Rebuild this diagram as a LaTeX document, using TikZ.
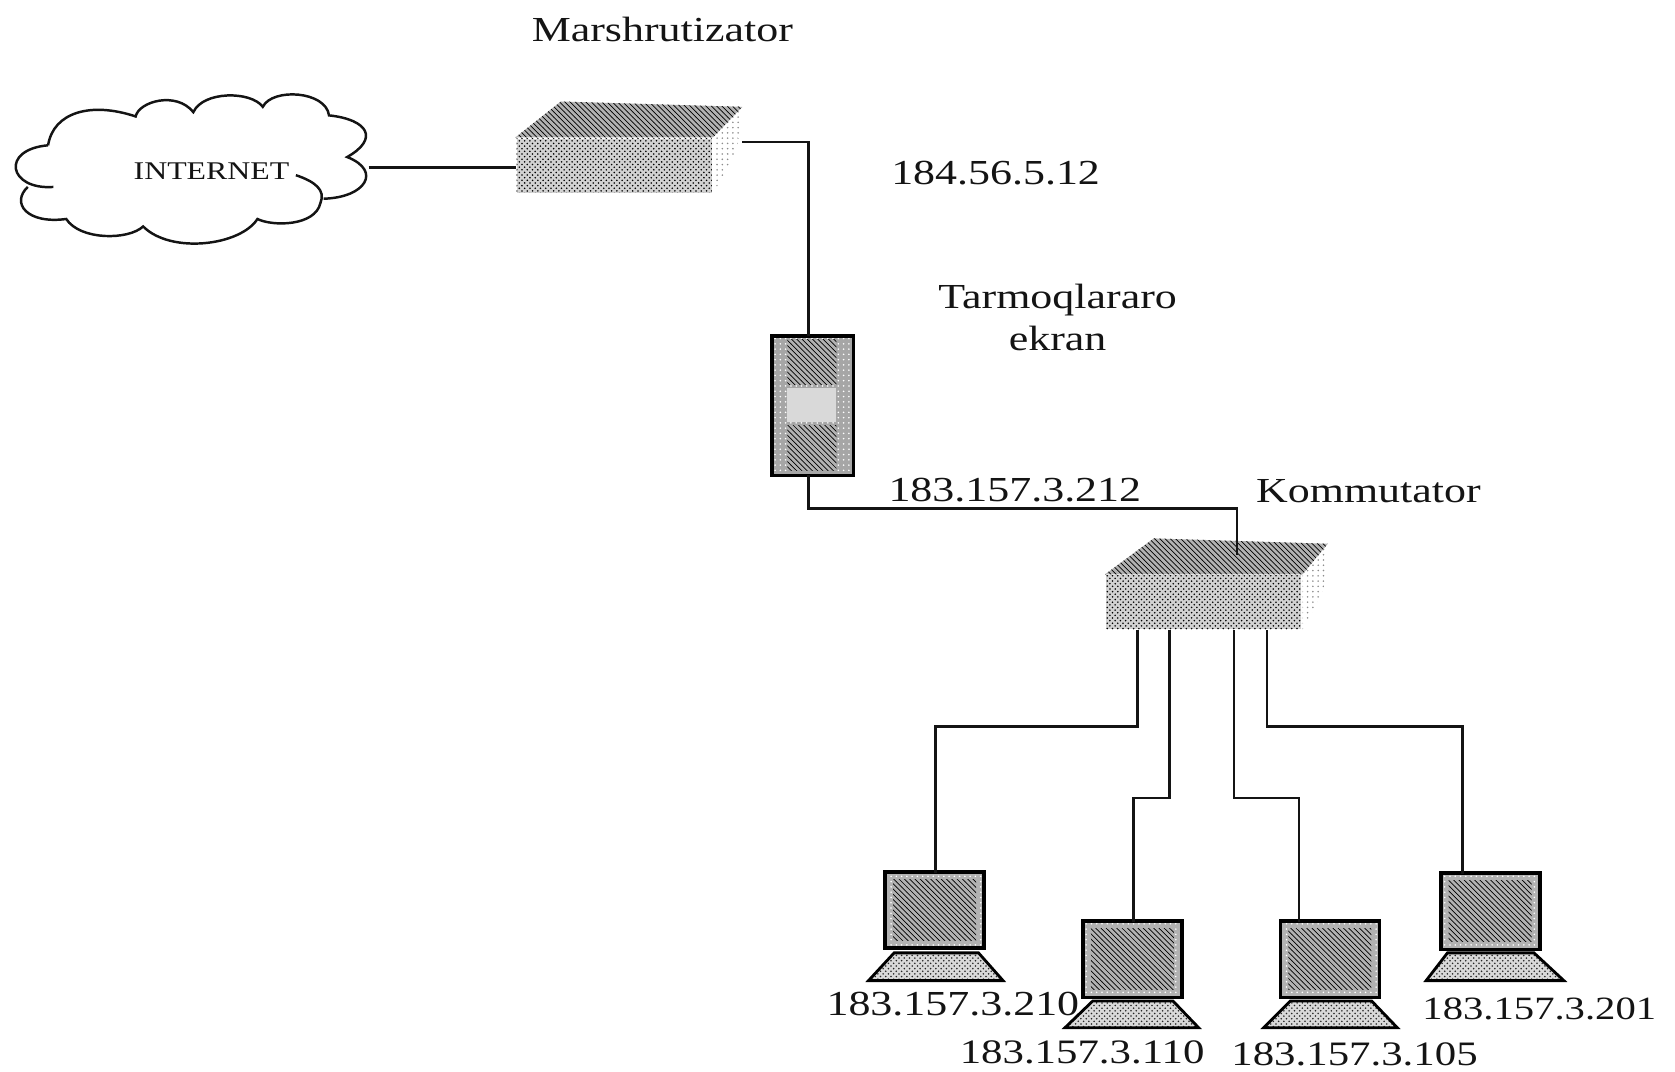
\documentclass[tikz,border=0pt]{standalone}
\usepackage{fontspec}
\setmainfont[FakeStretch=1.25]{Liberation Serif}
\usetikzlibrary{patterns}
\definecolor{inkblack}{gray}{.08}
\begin{document}
\begin{tikzpicture}[x=.02136cm,y=-.02136cm,line width=1.4pt,inkblack,
  every node/.style={font=\fontsize{20}{24}\selectfont,inner sep=1pt},
  wire/.style={draw=inkblack,line width=1.5pt},
  boxfront/.style={preaction={fill=gray!35},pattern=crosshatch dots,pattern color=black,inner sep=0pt,minimum width=3.9cm,minimum height=1.08cm},
  boxtop/.style={preaction={fill=gray!60},pattern=north west lines,pattern color=black},
  boxside/.style={pattern=dots,pattern color=black!45},
  fwframe/.style={draw=black,line width=2.2pt,preaction={fill=black!35},pattern=dots,pattern color=white,inner sep=0pt,minimum width=1.62cm,minimum height=2.78cm},
  fwdark/.style={preaction={fill=gray!60},pattern=north west lines,pattern color=black,inner sep=0pt,minimum width=.98cm,minimum height=.9cm},
  fwlight/.style={fill=gray!30,inner sep=0pt,minimum width=.98cm,minimum height=.68cm},
  monitor/.style={draw=black,line width=2.2pt,preaction={fill=black!30},pattern=dots,pattern color=white,inner sep=0pt,minimum width=1.98cm,minimum height=1.53cm},
  screen/.style={preaction={fill=gray!60},pattern=north west lines,pattern color=black,inner sep=0pt,minimum width=1.66cm,minimum height=1.22cm},
  keyboard/.style={draw=black,line width=1.6pt,preaction={fill=gray!30},pattern=crosshatch dots,pattern color=black!85}]
  \path[use as bounding box] (0,0) rectangle (1568,1003);
  \draw (45,136) .. controls (50,105) and (85,95) .. (127,109)
    .. controls (130,95) and (165,85) .. (181,105)
    .. controls (190,85) and (235,85) .. (246,100)
    .. controls (255,82) and (305,85) .. (308,108)
    .. controls (345,112) and (355,130) .. (325,147)
    .. controls (358,160) and (342,185) .. (303,186)
    (277,164) .. controls (295,170) and (305,178) .. (300,190)
    .. controls (295,212) and (255,212) .. (241,205)
    .. controls (225,230) and (160,238) .. (134,212)
    .. controls (120,225) and (75,225) .. (62,205)
    .. controls (25,210) and (10,190) .. (26,175)
    (50,175) .. controls (8,178) and (0,140) .. (45,136);
  \node (internet) at (198,160) {\fontsize{14.5}{16}\selectfont INTERNET};
  \node[boxfront] (router) at (575,155) {};
  \fill[boxside] (router.north east) -- (695,100) -- (690,140) -- (router.south east) -- cycle;
  \fill[boxtop] (router.north west) -- (525,95) -- (695,100) -- (router.north east) -- cycle;
  \node[fwframe] (firewall) at (761,380) {};
  \node[fwdark] (fwup) at (760,339) {};
  \node[fwlight] (fwmid) at (760,379) {};
  \node[fwdark] (fwdown) at (760,419) {};
  \node[boxfront] (switch) at (1127,564) {};
  \fill[boxside] (switch.north east) -- (1243,509) -- (1240,550) -- (switch.south east) -- cycle;
  \fill[boxtop] (switch.north west) -- (1080,504) -- (1243,509) -- (switch.north east) -- cycle;
  \node[monitor] (pca) at (875,852) {};
  \node[screen] at (pca) {};
  \draw[keyboard] (813,918) -- (837,892) -- (916,892) -- (939,918) -- cycle;
  \node[monitor] (pcb) at (1060,898) {};
  \node[screen] at (pcb) {};
  \draw[keyboard] (997,962) -- (1023,937) -- (1098,937) -- (1122,962) -- cycle;
  \node[monitor] (pcc) at (1245,898) {};
  \node[screen] at (pcc) {};
  \draw[keyboard] (1183,962) -- (1208,937) -- (1284,937) -- (1308,962) -- cycle;
  \node[monitor] (pcd) at (1395,853) {};
  \node[screen] at (pcd) {};
  \draw[keyboard] (1335,918) -- (1355,892) -- (1436,892) -- (1464,918) -- cycle;
  \coordinate (cloudport) at (345,157);
  \coordinate (routerin) at (483,157);
  \coordinate (routerout) at (695,133);
  \coordinate (fwin) at (757,315);
  \coordinate (fwout) at (757,445);
  \coordinate (swin) at (1158,520);
  \coordinate (swa) at (1065,590);
  \coordinate (swb) at (1095,590);
  \coordinate (swc) at (1155,590);
  \coordinate (swd) at (1186,590);
  \coordinate (pcain) at (876,817);
  \coordinate (pcbin) at (1061,863);
  \coordinate (pccin) at (1216,863);
  \coordinate (pcdin) at (1369,818);
  \draw[wire] (cloudport) -- (routerin);
  \draw[wire] (routerout) -| (fwin);
  \draw[wire] (fwout) |- (1158,476) -- (swin);
  \draw[wire] (swa) |- (876,680) -- (pcain);
  \draw[wire] (swb) |- (1061,747) -- (pcbin);
  \draw[wire] (swc) |- (1216,747) -- (pccin);
  \draw[wire] (swd) |- (1369,680) -- (pcdin);
  \node (lblrouter) at (620,28) {Marshrutizator};
  \node (lblout) at (932,162) {184.56.5.12};
  \node[align=center] (lblfw) at (990,297) {Tarmoqlararo\\ekran};
  \node (lblfwip) at (950,459) {183.157.3.212};
  \node (lblswitch) at (1281,460) {Kommutator};
  \node (lbla) at (892,940) {183.157.3.210};
  \node[font=\fontsize{19.5}{24}\selectfont] (lblb) at (1013,985) {183.157.3.110};
  \node[font=\fontsize{19.5}{24}\selectfont] (lblc) at (1268,987) {183.157.3.105};
  \node[font=\fontsize{18.5}{22}\selectfont] (lbld) at (1441,944) {183.157.3.201};
\end{tikzpicture}
\end{document}
